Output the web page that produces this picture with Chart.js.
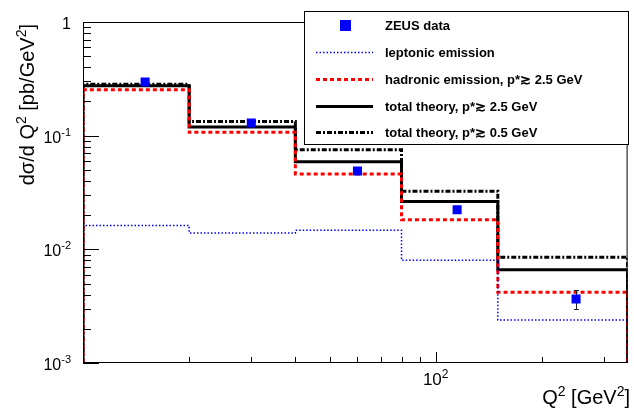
<!DOCTYPE html>
<html lang="en">
<head>
<meta charset="UTF-8" />
<title>ZEUS dσ/dQ²</title>
<script src="https://cdn.jsdelivr.net/npm/chart.js"></script>
<style>
  body { margin: 0; background: #fff; }
  #wrap { width: 634px; height: 409px; }
</style>
</head>
<body>
<div id="wrap"><canvas id="chart" width="634" height="409"></canvas></div>
<script>
// Q^2 bins [GeV^2]
var binEdges = [10, 20, 40, 80, 150, 350];
// theory histograms, pb/GeV^2
var leptonic = [0.0162, 0.0139, 0.0147, 0.0080, 0.00239];
var hadronic = [0.253, 0.107, 0.046, 0.0182, 0.0042];
var total25 = [0.275, 0.119, 0.059, 0.0264, 0.0066];
var total05 = [0.283, 0.133, 0.075, 0.0325, 0.0085];
// ZEUS points
var dataQ2 = [15, 30, 60, 115, 250];
var dataVal = [0.297, 0.129, 0.0488, 0.0223, 0.00366];
var dataErrUp = [0.012, 0.005, 0.0025, 0.0012, 0.00069];
var dataErrDown = [0.012, 0.005, 0.0025, 0.0012, 0.00067];
// axes
var xRange = [10, 350];
var yRange = [0.001, 1];
var yTickVals = [0.001, 0.01, 0.1, 1];
var yTickLabels = [["10", "-3"], ["10", "-2"], ["10", "-1"], ["1", ""]];
var xTickVals = [100];
var xTickLabels = [["10", "2"]];
var xMinorVals = [20, 30, 40, 50, 60, 70, 80, 90, 200, 300];

var FONT = "'Liberation Sans', Arial, sans-serif";

function steps(vals) {
  var pts = [{ x: binEdges[0], y: yRange[0] }];
  for (var i = 0; i < vals.length; i++) {
    pts.push({ x: binEdges[i], y: vals[i] });
    pts.push({ x: binEdges[i + 1], y: vals[i] });
  }
  pts.push({ x: binEdges[binEdges.length - 1], y: yRange[0] });
  return pts;
}

function histSet(label, vals, color, width, dash) {
  return {
    label: label,
    data: steps(vals),
    showLine: true,
    borderColor: color,
    borderWidth: width,
    borderDash: dash,
    pointRadius: 0,
    fill: false,
    tension: 0
  };
}

var points = dataQ2.map(function (q, i) { return { x: q, y: dataVal[i] }; });

// draws text with superscripts; parts = [[text, isSup], ...]
function richWidth(ctx, parts, size, supSize) {
  var w = 0;
  parts.forEach(function (p) {
    ctx.font = (p[1] ? supSize : size) + "px " + FONT;
    w += ctx.measureText(p[0]).width;
  });
  return w;
}
function drawRich(ctx, parts, x, y, size, supSize, raise, weight) {
  var cx = x;
  parts.forEach(function (p) {
    ctx.font = (weight || "") + " " + (p[1] ? supSize : size) + "px " + FONT;
    ctx.fillText(p[0], cx, p[1] ? y - raise : y);
    cx += ctx.measureText(p[0]).width;
  });
}

var rootAxes = {
  id: "rootAxes",
  beforeDatasetDraw: function (chart, args) {
    if (args.index !== 0) return;
    var ctx = chart.ctx, xs = chart.scales.x, ys = chart.scales.y;
    ctx.save();
    ctx.strokeStyle = "#222";
    ctx.lineWidth = 1;
    dataQ2.forEach(function (q, i) {
      var px = Math.round(xs.getPixelForValue(q)) + 0.5;
      var y1 = ys.getPixelForValue(dataVal[i] + dataErrUp[i]);
      var y2 = ys.getPixelForValue(dataVal[i] - dataErrDown[i]);
      ctx.beginPath();
      ctx.moveTo(px, y1); ctx.lineTo(px, y2);
      ctx.moveTo(px - 2.5, Math.round(y1) + 0.5); ctx.lineTo(px + 2.5, Math.round(y1) + 0.5);
      ctx.moveTo(px - 2.5, Math.round(y2) + 0.5); ctx.lineTo(px + 2.5, Math.round(y2) + 0.5);
      ctx.stroke();
    });
    ctx.restore();
  },
  afterDatasetsDraw: function (chart) {
    var ctx = chart.ctx, a = chart.chartArea, xs = chart.scales.x, ys = chart.scales.y;
    ctx.save();
    ctx.strokeStyle = "#000";
    ctx.lineWidth = 1;
    ctx.strokeRect(a.left + 0.5, a.top + 0.5, a.right - a.left - 1, a.bottom - a.top - 1);
    ctx.beginPath();
    // y ticks, inside the frame
    for (var e = -3; e <= 0; e++) {
      for (var m = 1; m <= 9; m++) {
        var v = m * Math.pow(10, e);
        if (v > yRange[1] * 1.0001) break;
        var py = Math.round(ys.getPixelForValue(v)) + 0.5;
        ctx.moveTo(a.left, py);
        ctx.lineTo(a.left + (m === 1 ? 16 : 8), py);
      }
    }
    // x ticks
    xTickVals.forEach(function (v) {
      var px = Math.round(xs.getPixelForValue(v)) + 0.5;
      ctx.moveTo(px, a.bottom); ctx.lineTo(px, a.bottom - 11);
    });
    xMinorVals.forEach(function (v) {
      var px = Math.round(xs.getPixelForValue(v)) + 0.5;
      ctx.moveTo(px, a.bottom); ctx.lineTo(px, a.bottom - 6);
    });
    ctx.stroke();

    ctx.fillStyle = "#000";
    ctx.textAlign = "left";
    ctx.textBaseline = "alphabetic";
    // y labels
    yTickVals.forEach(function (v, i) {
      var parts = [[yTickLabels[i][0], false], [yTickLabels[i][1], true]];
      var w = richWidth(ctx, parts, 16, 11);
      var py = ys.getPixelForValue(v);
      drawRich(ctx, parts, 71 - w, py + 7, 16, 11, 7);
    });
    // x labels
    xTickVals.forEach(function (v, i) {
      var parts = [[xTickLabels[i][0], false], [xTickLabels[i][1], true]];
      var w = richWidth(ctx, parts, 17, 12);
      var px = xs.getPixelForValue(v);
      drawRich(ctx, parts, px - w / 2, 385, 17, 12, 7);
    });
    // x title
    var xt = [["Q", false], ["2", true], [" [GeV", false], ["2", true], ["]", false]];
    drawRich(ctx, xt, 630 - richWidth(ctx, xt, 20, 14), 404, 20, 14, 8);
    // y title
    var yt = [["dσ/d Q", false], ["2", true], [" [pb/GeV", false], ["2", true], ["]", false]];
    ctx.translate(34, 24);
    ctx.rotate(-Math.PI / 2);
    drawRich(ctx, yt, -richWidth(ctx, yt, 20, 14), 0, 20, 14, 8);
    ctx.restore();
  },
  afterDraw: function (chart) {
    // legend box
    var ctx = chart.ctx;
    var box = { l: 304, t: 11, r: 628, b: 144 };
    var rows = [25, 52, 79, 106, 132];
    ctx.save();
    ctx.fillStyle = "#fff";
    ctx.fillRect(box.l, box.t, box.r - box.l, box.b - box.t);
    ctx.strokeStyle = "#000";
    ctx.lineWidth = 1;
    ctx.strokeRect(box.l + 0.5, box.t + 0.5, box.r - box.l, box.b - box.t);
    chart.data.datasets.forEach(function (ds, i) {
      var y = rows[i];
      if (ds.showLine) {
        ctx.save();
        ctx.strokeStyle = ds.borderColor;
        ctx.lineWidth = ds.borderWidth;
        ctx.setLineDash(ds.borderDash || []);
        ctx.beginPath();
        ctx.moveTo(316, y + 0.5); ctx.lineTo(373, y + 0.5);
        ctx.stroke();
        ctx.restore();
      } else {
        ctx.fillStyle = ds.backgroundColor;
        ctx.fillRect(340, y - 5, 11, 11);
      }
      ctx.fillStyle = "#000";
      ctx.font = "bold 13px " + FONT;
      ctx.textBaseline = "middle";
      ctx.fillText(ds.label, 385, y + 1);
    });
    ctx.restore();
  }
};

new Chart(document.getElementById("chart"), {
  type: "scatter",
  data: {
    datasets: [
      {
        label: "ZEUS data",
        data: points,
        showLine: false,
        pointStyle: "rect",
        pointRadius: 6.4,
        backgroundColor: "#0000ff",
        borderColor: "#0000ff",
        borderWidth: 0
      },
      histSet("leptonic emission", leptonic, "#0000ff", 1.5, [1.5, 2]),
      histSet("hadronic emission, p*≳ 2.5 GeV", hadronic, "#ff0000", 3, [4, 3]),
      histSet("total theory, p*≳ 2.5 GeV", total25, "#000000", 3, []),
      histSet("total theory, p*≳ 0.5 GeV", total05, "#000000", 3, [5, 2, 2, 2])
    ]
  },
  options: {
    responsive: false,
    animation: false,
    layout: { padding: { left: 83, top: 22, right: 4, bottom: 46 } },
    plugins: { legend: { display: false }, tooltip: { enabled: false } },
    scales: {
      x: { type: "logarithmic", min: xRange[0], max: xRange[1], display: false },
      y: { type: "logarithmic", min: yRange[0], max: yRange[1], display: false }
    }
  },
  plugins: [rootAxes]
});
</script>
</body>
</html>
